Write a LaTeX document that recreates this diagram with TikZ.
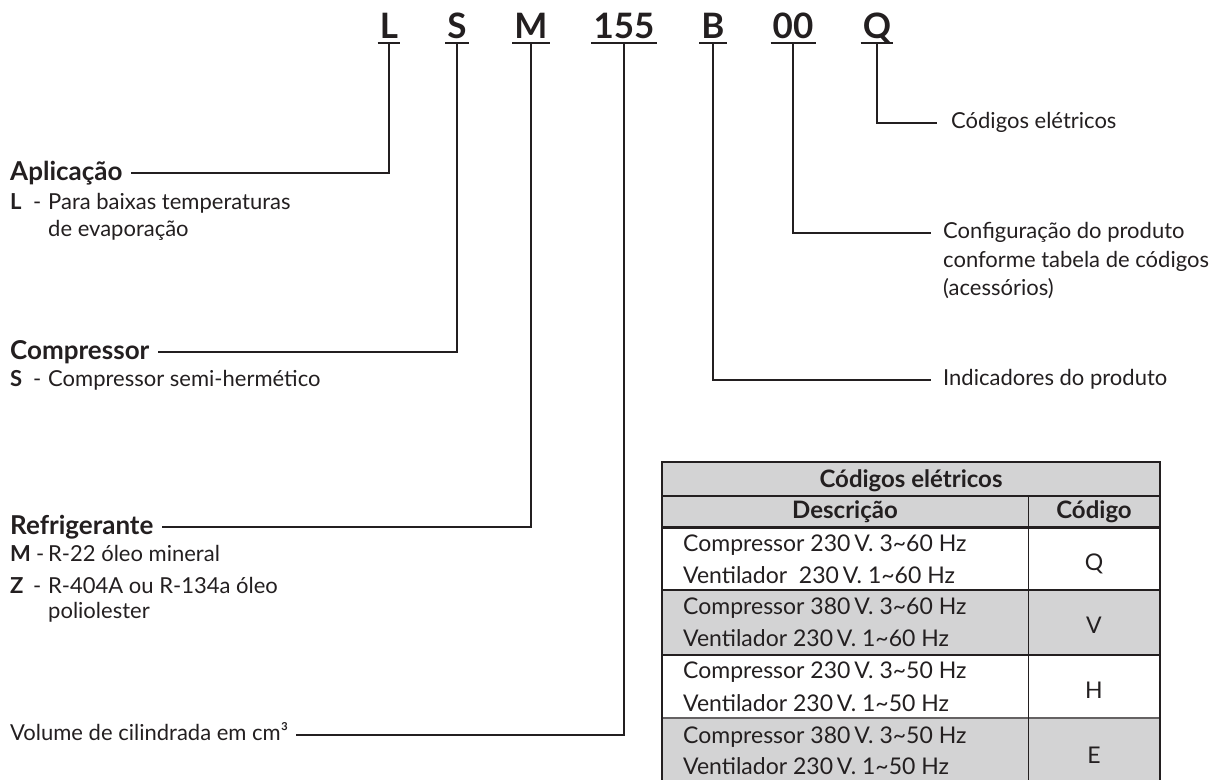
\documentclass[tikz,border=0pt]{standalone}
\usepackage{fontspec}
\setmainfont{Lato}
\definecolor{ink}{HTML}{231F20}
\definecolor{cellgrey}{HTML}{D3D3D4}
\begin{document}
\begin{tikzpicture}[x=1pt,y=-1pt,
  code/.style={font=\fontsize{35}{40}\selectfont\bfseries, text=ink, inner sep=0pt, anchor=base, text depth=0pt},
  head/.style={font=\fontsize{26}{30}\selectfont\bfseries, text=ink, inner sep=0pt, anchor=west, text height=19pt, text depth=5pt},
  body/.style={font=\fontsize{22}{26}\selectfont, text=ink, inner sep=0pt, anchor=west, text height=16pt, text depth=5pt},
  bodyb/.style={body, font=\fontsize{22}{26}\selectfont\bfseries},
  tcell/.style={font=\fontsize{23}{27}\selectfont, text=ink, inner sep=0pt, anchor=west, text height=17pt, text depth=5pt},
  thead/.style={font=\fontsize{24}{28}\selectfont\bfseries, text=ink, inner sep=0pt, anchor=base},
  tcode/.style={font=\fontsize{23}{27}\selectfont, text=ink, inner sep=0pt, text height=16pt, text depth=0pt},
  conn/.style={draw=ink, line width=1.3pt},
  uline/.style={draw=ink, line width=1.6pt}]
\useasboundingbox (0,0) rectangle (1223,779);

% code letters
\node[code] (cL) at (389,38) {L};
\node[code] (cS) at (457,38) {S};
\node[code] (cM) at (531,38) {M};
\node[code] (cN) at (624,38) {155};
\node[code] (cB) at (713,38) {B};
\node[code] (c0) at (793,38) {00};
\node[code] (cQ) at (877,38) {Q};
\foreach \n in {cL,cS,cM,cN,cB,c0,cQ}
  \draw[uline] ([xshift=-2pt,yshift=-5pt]\n.south west) -- ([xshift=2pt,yshift=-5pt]\n.south east);

% left labels
\node[head] (ap) at (10,173) {Aplicação};
\node[bodyb] (apk) at (10,204) {L};
\node[body] (apd) at (33,204) {-};
\node[body] (apt) at (48,204) {Para baixas temperaturas};
\node[body] (apt2) at (48,231) {de evaporação};

\node[head] (co) at (10,352) {Compressor};
\node[bodyb] (cok) at (10,381) {S};
\node[body] (cod) at (33,381) {-};
\node[body] (cot) at (48,381) {Compressor semi-hermético};

\node[head] (re) at (10,527) {Refrigerante};
\node[bodyb] (rek) at (10,556) {M};
\node[body] (red) at (36,556) {-};
\node[body] (ret) at (48,556) {R-22 óleo mineral};
\node[bodyb] (rzk) at (10,588) {Z};
\node[body] (rzd) at (33,588) {-};
\node[body] (rzt) at (48,588) {R-404A ou R-134a óleo};
\node[body] (rzt2) at (48,613) {poliolester};

\node[body] (vo) at (10,735) {Volume de cilindrada em cm³};

% right labels
\node[body] (qe) at (951,123) {Códigos elétricos};
\node[body] (cf) at (943,233) {Configuração do produto};
\node[body] (cf2) at (943,262) {conforme tabela de códigos};
\node[body] (cf3) at (943,290) {(acessórios)};
\node[body] (id) at (943,380) {Indicadores do produto};

% connectors
\draw[conn] ([yshift=-5pt]cL.south) |- ([xshift=8pt]ap.east);
\draw[conn] ([yshift=-5pt]cS.south) |- ([xshift=8pt]co.east);
\draw[conn] ([yshift=-5pt]cM.south) |- ([xshift=8pt]re.east);
\draw[conn] ([yshift=-5pt]cN.south) |- ([xshift=8pt]vo.east);
\draw[conn] ([yshift=-5pt]cB.south) |- ([xshift=-12pt]id.west);
\draw[conn] ([yshift=-5pt]c0.south) |- ([xshift=-12pt]cf.west);
\draw[conn] ([yshift=-5pt]cQ.south) |- ([xshift=-14pt]qe.west);

% table
\fill[cellgrey] (662,462) rectangle (1160,527);
\fill[cellgrey] (662,590) rectangle (1160,655);
\fill[cellgrey] (662,718) rectangle (1160,781);
\draw[draw=ink, line width=1.5pt] (662,496) -- (1160,496);
\draw[draw=ink, line width=3pt] (662,527) -- (1160,527);
\draw[draw=ink, line width=1.5pt] (662,590) -- (1160,590);
\draw[draw=ink, line width=1.5pt] (662,655) -- (1160,655);
\draw[draw=ink!70, line width=1.5pt] (662,718) -- (1160,718);
\draw[draw=ink, line width=1pt] (1028,496) -- (1028,781);
\draw[draw=ink, line width=2.6pt] (662,781) -- (662,462) -- (1160,462) -- (1160,781);

\node[thead] (th) at (911,487) {Códigos elétricos};
\node[thead] (td) at (845,518) {Descrição};
\node[thead] (tc) at (1094,518) {Código};

\node[tcell] (r1a) at (683,545) {Compressor 230\,V. 3\textasciitilde60 Hz};
\node[tcell] (r1b) at (683,577) {Ventilador\ \ 230\,V. 1\textasciitilde60 Hz};
\node[tcode] (k1) at (1094,562) {Q};
\node[tcell] (r2a) at (683,608) {Compressor 380\,V. 3\textasciitilde60 Hz};
\node[tcell] (r2b) at (683,640) {Ventilador 230\,V. 1\textasciitilde60 Hz};
\node[tcode] (k2) at (1094,625) {V};
\node[tcell] (r3a) at (683,672) {Compressor 230\,V. 3\textasciitilde50 Hz};
\node[tcell] (r3b) at (683,705) {Ventilador 230\,V. 1\textasciitilde50 Hz};
\node[tcode] (k3) at (1094,690) {H};
\node[tcell] (r4a) at (683,737) {Compressor 380\,V. 3\textasciitilde50 Hz};
\node[tcell] (r4b) at (683,768) {Ventilador 230\,V. 1\textasciitilde50 Hz};
\node[tcode] (k4) at (1094,755) {E};
\end{tikzpicture}
\end{document}
